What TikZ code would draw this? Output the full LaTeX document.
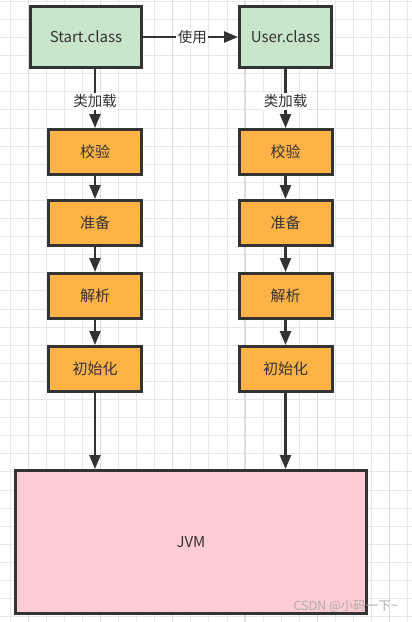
\documentclass[tikz,border=0pt]{standalone}
\usepackage{fontspec}
\setmainfont{Noto Sans CJK SC}
\usetikzlibrary{arrows.meta}
\definecolor{gridc}{HTML}{E8E8E8}
\definecolor{gridm}{HTML}{DDDDDD}
\definecolor{edge}{HTML}{333333}
\definecolor{txt}{HTML}{333333}
\definecolor{greenf}{HTML}{C8E6C9}
\definecolor{orangef}{HTML}{FFB347}
\definecolor{pinkf}{HTML}{FFCCD3}
\begin{document}
\begin{tikzpicture}[x=1pt,y=-1pt,
  gridline/.style={draw=gridc,line width=1pt},
  gridmajor/.style={draw=gridm,line width=1.1pt},
  box/.style={draw=edge,line width=3pt,text=txt,inner sep=0pt,
    font=\fontsize{15}{15}\selectfont},
  cls/.style={box,fill=greenf,minimum width=111pt,minimum height=61pt},
  stage/.style={box,fill=orangef,minimum width=93pt,minimum height=45pt},
  jvmbox/.style={box,fill=pinkf,minimum width=351pt,minimum height=143pt},
  arr/.style={draw=edge,line width=2.5pt,-{Triangle[length=14pt,width=11pt]}},
  lbl/.style={fill=white,text=txt,inner sep=1.5pt,font=\fontsize{14.5}{14.5}\selectfont}
]
\useasboundingbox (0,0) rectangle (412,622);
\fill[white] (0,0) rectangle (412,622);
% grid
\foreach \i in {0,...,22} {
  \draw[gridline] ({10.3+18.06*\i},0) -- ({10.3+18.06*\i},622);
}
\foreach \j in {0,...,34} {
  \draw[gridline] (0,{1.3+18.1*\j}) -- (412,{1.3+18.1*\j});
}
\foreach \i in {0,...,5} {
  \draw[gridmajor] ({28.3+72.24*\i},0) -- ({28.3+72.24*\i},622);
}
% nodes
\node[cls] (start) at (86,37) {Start.class};
\node[cls,minimum width=92pt] (user) at (285.5,37) {User.class};
\node[stage] (v1) at (95,152) {校验};
\node[stage] (v2) at (95,223) {准备};
\node[stage] (v3) at (95,296) {解析};
\node[stage] (v4) at (95,369) {初始化};
\node[stage] (u1) at (285.5,152) {校验};
\node[stage] (u2) at (285.5,223) {准备};
\node[stage] (u3) at (285.5,296) {解析};
\node[stage] (u4) at (285.5,369) {初始化};
\node[jvmbox] (jvm) at (191,542) {JVM};
% connectors
\draw[arr] (start.east) -- node[lbl,pos=0.52] {使用} (user.west);
\draw[arr] (v1.north |- start.south) -- node[lbl,pos=0.55] {类加载} (v1.north);
\draw[arr] (u1.north |- user.south) -- node[lbl,pos=0.55] {类加载} (u1.north);
\draw[arr] (v1) -- (v2);
\draw[arr] (v2) -- (v3);
\draw[arr] (v3) -- (v4);
\draw[arr] (u1) -- (u2);
\draw[arr] (u2) -- (u3);
\draw[arr] (u3) -- (u4);
\draw[arr] (v4.south) -- (v4.south |- jvm.north);
\draw[arr] (u4.south) -- (u4.south |- jvm.north);
% watermark
\node[anchor=east,text=gray!65,inner sep=0pt,font=\fontsize{12.5}{12.5}\selectfont] (wm) at (398,606) {CSDN @小码一下\textasciitilde};
\end{tikzpicture}
\end{document}
